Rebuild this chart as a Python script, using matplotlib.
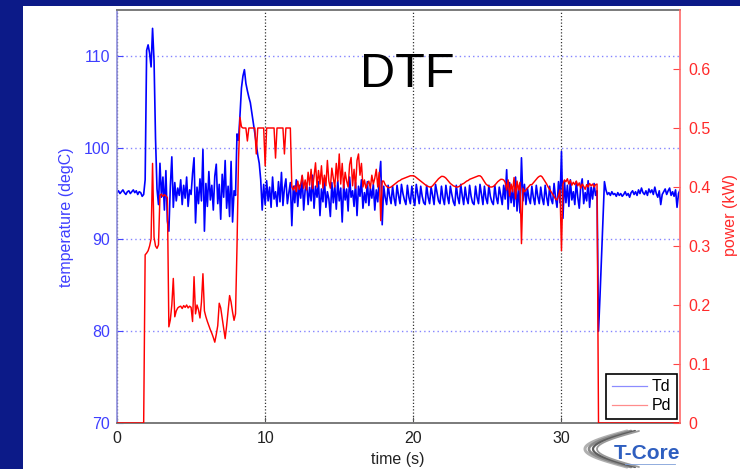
import numpy as np
import matplotlib
matplotlib.use("Agg")
import matplotlib.pyplot as plt
from matplotlib.patches import Rectangle

plt.rcParams['font.family'] = ['Liberation Sans', 'DejaVu Sans']

# ---- data -------------------------------------------------------------
# sample interval of the logged signals (s)
dt = 0.1
t_end = 38.0

# Td: die temperature (degC), one value per sample
td = [
    95.1, 95.3, 95.0, 95.2, 95.4, 95.1, 94.9, 95.2, 95.3, 95.0,
    95.2, 95.4, 95.1, 95.3, 94.9, 95.2, 95.1, 94.7, 94.9, 96.5,
    110.6, 111.2, 110.3, 108.8, 113.0, 109.5, 101.0, 95.5, 93.8, 98.3,
    94.6, 96.8, 93.2, 97.5, 92.0, 90.9, 95.8, 99.0, 93.5, 96.2,
    94.2, 95.6, 94.8, 96.5, 93.8, 95.9, 94.5, 96.8, 93.6, 95.4,
    94.9, 97.2, 98.9, 91.8, 95.7, 93.9, 96.6, 94.2, 99.8, 90.9,
    96.1, 93.6, 97.4, 94.3, 95.9, 93.2, 96.9, 98.2, 93.9, 96.0,
    92.2, 97.1, 94.6, 98.6, 93.4, 95.8, 92.5, 98.5, 91.9, 95.3,
    94.8, 101.5, 100.8, 103.5, 106.5, 107.8, 108.5, 107.0, 106.2, 105.5,
    104.9, 103.8, 102.7, 101.6, 100.4, 99.2, 98.3, 96.5, 93.2, 96.0,
    93.8, 96.4, 94.2, 95.7, 93.5, 96.8, 94.4, 95.2, 93.6, 96.3,
    94.1, 97.3, 93.7, 95.6, 96.6, 93.9, 95.1, 96.2, 91.5, 95.8,
    94.0, 96.5, 93.6, 95.9, 94.5, 96.9, 93.2, 95.4, 96.1, 93.8,
    95.7, 94.2, 97.0, 93.4, 95.8, 94.6, 96.3, 92.6, 95.5, 94.1,
    96.7, 93.5, 95.2, 94.4, 92.5, 96.2, 94.0, 95.9, 93.3, 96.4,
    94.2, 95.6, 91.9, 96.0, 94.3, 95.5, 93.1, 96.8, 94.6, 95.3,
    93.6, 96.2, 92.6, 95.8, 94.7, 96.5, 93.4, 95.1, 94.0, 96.3,
    93.7, 95.6, 94.5, 96.0, 93.2, 95.4, 94.1, 96.7, 98.5, 91.6,
    95.8, 94.6, 93.8, 95.9, 94.7, 93.9, 95.8, 94.5, 93.7, 95.9,
    94.8, 93.9, 96.0, 95.0, 94.3, 93.8, 95.9, 94.6, 93.9, 95.8,
    94.5, 93.7, 96.0, 94.9, 93.9, 95.8, 94.7, 94.0, 93.8, 95.9,
    94.6, 93.9, 95.7, 94.8, 93.8, 96.0, 95.1, 94.2, 93.9, 95.8,
    94.5, 93.8, 95.9, 94.7, 93.9, 95.8, 94.9, 94.1, 93.7, 95.9,
    94.6, 93.9, 96.0, 94.8, 93.8, 95.7, 94.5, 93.9, 95.9, 94.7,
    94.0, 93.8, 95.8, 94.6, 93.9, 96.0, 94.9, 93.8, 95.8, 94.5,
    93.9, 95.9, 94.7, 94.1, 93.8, 95.9, 94.6, 93.9, 95.7, 94.8,
    93.8, 95.9, 94.4, 97.6, 93.3, 96.2, 94.0, 95.5, 93.6, 96.8,
    93.1, 95.7, 92.9, 98.9, 94.2, 96.0, 93.8, 95.6, 94.5, 93.9,
    95.8, 94.6, 93.8, 95.9, 94.7, 93.9, 95.7, 94.5, 93.8, 95.9,
    94.6, 93.7, 95.8, 94.4, 93.9, 96.1, 94.5, 93.5, 96.3, 94.0,
    99.6, 92.3, 96.4, 94.0, 95.9, 93.6, 96.5, 94.3, 95.2, 93.8,
    96.3, 94.6, 93.4, 95.8, 96.6, 93.9, 95.1, 94.2, 96.4, 93.5,
    95.7, 94.4, 96.1, 94.8, 95.3, 80.0, 83.8, 87.9, 91.8, 96.3,
    95.4, 94.9, 95.1, 94.8, 95.2, 94.9, 95.0, 94.7, 95.1, 94.8,
    95.0, 94.7, 94.9, 95.2, 94.8, 95.0, 94.6, 95.1, 95.3, 94.9,
    95.2, 94.8, 95.4, 95.0, 95.6, 95.1, 94.9, 95.3, 94.8, 95.5,
    95.1, 95.4, 94.9, 95.7, 95.0, 94.6, 95.3, 93.8, 94.9, 95.2,
    95.5, 94.9, 95.3, 95.6, 94.8, 95.2, 94.7, 95.4, 93.5, 95.0,
    95.4,
]

# Pd: heater power (kW), one value per sample
pd_kw = [
    0, 0, 0, 0, 0, 0, 0, 0, 0, 0,
    0, 0, 0, 0, 0, 0, 0, 0, 0, 0.285,
    0.288, 0.292, 0.300, 0.312, 0.440, 0.315, 0.300, 0.296, 0.302, 0.386,
    0.388, 0.384, 0.387, 0.385, 0.382, 0.163, 0.175, 0.200, 0.245, 0.180,
    0.190, 0.195, 0.197, 0.198, 0.194, 0.199, 0.196, 0.200, 0.195, 0.198,
    0.196, 0.172, 0.248, 0.185, 0.200, 0.192, 0.178, 0.205, 0.253, 0.190,
    0.180, 0.172, 0.165, 0.158, 0.152, 0.145, 0.137, 0.150, 0.165, 0.203,
    0.195, 0.178, 0.160, 0.143, 0.165, 0.190, 0.216, 0.205, 0.188, 0.174,
    0.185, 0.300, 0.445, 0.518, 0.502, 0.500, 0.500, 0.500, 0.478, 0.500,
    0.500, 0.500, 0.500, 0.500, 0.456, 0.500, 0.500, 0.500, 0.500, 0.500,
    0.436, 0.500, 0.500, 0.500, 0.500, 0.500, 0.500, 0.449, 0.500, 0.500,
    0.500, 0.500, 0.500, 0.456, 0.500, 0.500, 0.500, 0.500, 0.400, 0.395,
    0.402, 0.392, 0.410, 0.396, 0.405, 0.420, 0.398, 0.412, 0.395, 0.425,
    0.403, 0.430, 0.397, 0.418, 0.441, 0.400, 0.428, 0.405, 0.436, 0.398,
    0.420, 0.402, 0.445, 0.410, 0.398, 0.432, 0.415, 0.400, 0.440, 0.410,
    0.456, 0.405, 0.440, 0.398, 0.425, 0.410, 0.400, 0.438, 0.450, 0.402,
    0.430, 0.398, 0.445, 0.456, 0.420, 0.440, 0.400, 0.412, 0.398, 0.405,
    0.410, 0.398, 0.420, 0.405, 0.415, 0.430, 0.400, 0.425, 0.343, 0.410,
    0.410, 0.404, 0.401, 0.399, 0.399, 0.400, 0.402, 0.404, 0.406, 0.408,
    0.410, 0.411, 0.413, 0.414, 0.415, 0.416, 0.417, 0.418, 0.419, 0.419,
    0.419, 0.418, 0.416, 0.414, 0.412, 0.410, 0.408, 0.406, 0.404, 0.402,
    0.401, 0.400, 0.400, 0.402, 0.405, 0.408, 0.411, 0.414, 0.416, 0.418,
    0.418, 0.417, 0.415, 0.412, 0.409, 0.406, 0.404, 0.402, 0.401, 0.400,
    0.400, 0.401, 0.403, 0.405, 0.406, 0.408, 0.410, 0.411, 0.413, 0.414,
    0.415, 0.416, 0.417, 0.418, 0.419, 0.419, 0.417, 0.413, 0.409, 0.405,
    0.403, 0.401, 0.400, 0.400, 0.401, 0.403, 0.406, 0.409, 0.411, 0.413,
    0.413, 0.412, 0.408, 0.395, 0.412, 0.385, 0.405, 0.392, 0.416, 0.380,
    0.410, 0.395, 0.408, 0.304, 0.398, 0.392, 0.395, 0.398, 0.401, 0.404,
    0.404, 0.407, 0.410, 0.413, 0.416, 0.418, 0.419, 0.417, 0.413, 0.409,
    0.405, 0.400, 0.396, 0.392, 0.388, 0.384, 0.380, 0.378, 0.385, 0.395,
    0.292, 0.405, 0.412, 0.409, 0.414, 0.405, 0.411, 0.403, 0.408, 0.404,
    0.410, 0.402, 0.407, 0.398, 0.405, 0.401, 0.396, 0.404, 0.400, 0.406,
    0.402, 0.405, 0.400, 0.404, 0.405, 0, 0, 0, 0, 0,
    0, 0, 0, 0, 0, 0, 0, 0, 0, 0,
    0, 0, 0, 0, 0, 0, 0, 0, 0, 0,
    0, 0, 0, 0, 0, 0, 0, 0, 0, 0,
    0, 0, 0, 0, 0, 0, 0, 0, 0, 0,
    0, 0, 0, 0, 0, 0, 0, 0, 0, 0,
    0,
]

x_ticks = [0, 10, 20, 30]
temp_ticks = [70, 80, 90, 100, 110]
power_ticks = [0, 0.1, 0.2, 0.3, 0.4, 0.5, 0.6]
power_labels = ['0', '0.1', '0.2', '0.3', '0.4', '0.5', '0.6']

time = np.arange(len(td)) * dt

# ---- figure -----------------------------------------------------------
W, H = 740, 469
fig = plt.figure(figsize=(W / 100, H / 100), dpi=100, facecolor='#0c1a88')
fig.patches.append(Rectangle((23 / W, 0), 1 - 23 / W, 1 - 6 / H,
                             transform=fig.transFigure, facecolor='white',
                             edgecolor='none', zorder=-10))

ax_l, ax_r, ax_t, ax_b = 117, 680, 10, 423
ax = fig.add_axes([ax_l / W, 1 - ax_b / H, (ax_r - ax_l) / W, (ax_b - ax_t) / H])
ax.set_facecolor('white')
ax2 = ax.twinx()

blue = '#0000ff'
red = '#ff0000'

l1, = ax.plot(time, td, color=blue, lw=1.2, label='Td')
l2, = ax2.plot(time, pd_kw, color=red, lw=1.05, label='Pd')

ax.set_xlim(0, t_end)
ax.set_ylim(70, 115)
ax2.set_ylim(0, 0.7)

ax.set_xticks(x_ticks)
ax.set_xticklabels([str(v) for v in x_ticks])
ax.set_yticks(temp_ticks)
ax.set_yticklabels([str(v) for v in temp_ticks])
ax2.set_yticks(power_ticks)
ax2.set_yticklabels(power_labels)

fs = 11.5
ax.tick_params(axis='x', direction='in', length=4, color='#555555',
               labelcolor='#222222', labelsize=fs, pad=6)
ax.tick_params(axis='y', direction='in', length=4, color='#4444ff',
               labelcolor='#3f3fff', labelsize=fs, pad=5)
ax2.tick_params(axis='y', direction='in', length=5, color='#ff4444',
                labelcolor='#ff2a2a', labelsize=fs, pad=6)

# dotted grids: temperature levels in blue, time marks in black
ax.grid(axis='y', color='#8585ff', linestyle=(0, (1, 2.2)), lw=1.0)
ax.grid(axis='x', color='#333333', linestyle=(0, (1, 1.6)), lw=0.9)
ax.set_axisbelow(True)

for name in ['top', 'bottom']:
    ax.spines[name].set_color('#7a7a7a')
    ax.spines[name].set_linewidth(1.4)
ax.spines['left'].set_color('#8c8cdc')
ax.spines['left'].set_linewidth(1.2)
ax.spines['right'].set_visible(False)
for name in ['top', 'bottom', 'left']:
    ax2.spines[name].set_visible(False)
ax2.spines['right'].set_color('#ff6a6a')
ax2.spines['right'].set_linewidth(1.2)

leg = ax2.legend(handles=[l1, l2], loc='lower right',
                 bbox_to_anchor=(0.994, 0.0097), borderaxespad=0,
                 fontsize=fs, fancybox=False, framealpha=1,
                 edgecolor='black', borderpad=0.35, labelspacing=0.25,
                 handlelength=2.2, handletextpad=0.3)
leg.get_frame().set_linewidth(1.2)
for line in leg.get_lines():
    line.set_alpha(0.45)
    line.set_linewidth(0.9)

ax.text(0.515, 0.843, 'DTF', transform=ax.transAxes, ha='center',
        va='center', fontsize=35, color='black')

fig.text(66 / W, 1 - 217 / H, 'temperature (degC)', rotation=90,
         ha='center', va='center', fontsize=fs, color='#3f3fff')
fig.text(731 / W, 1 - 215 / H, 'power (kW)', rotation=90,
         ha='center', va='center', fontsize=fs, color='#ff2a2a')
fig.text(398 / W, 1 - 459 / H, 'time (s)', ha='center', va='center',
         fontsize=fs, color='#222222')

# T-Core badge under the lower right corner
lax = fig.add_axes([575 / W, 0, 110 / W, 40 / H])
lax.set_xlim(0, 110)
lax.set_ylim(0, 40)
lax.axis('off')
for k, g in enumerate(['#b0b0b0', '#8a8a8a', '#5e5e5e', '#9a9a9a']):
    s = np.linspace(0, 1, 40)
    xs = 52 - 42 * np.sin(np.pi * s) + 4 * k
    ys = 38 - 36 * s
    lax.plot(xs, ys, color=g, lw=2.2 - 0.3 * k, solid_capstyle='round')
lax.text(72, 16, 'T-Core', ha='center', va='center', fontsize=15,
         color='#2f5fc0', fontweight='bold')
lax.plot([50, 100], [5, 5], color='#7f9fd8', lw=0.6)

fig.savefig('out.png', dpi=100, facecolor=fig.get_facecolor())
